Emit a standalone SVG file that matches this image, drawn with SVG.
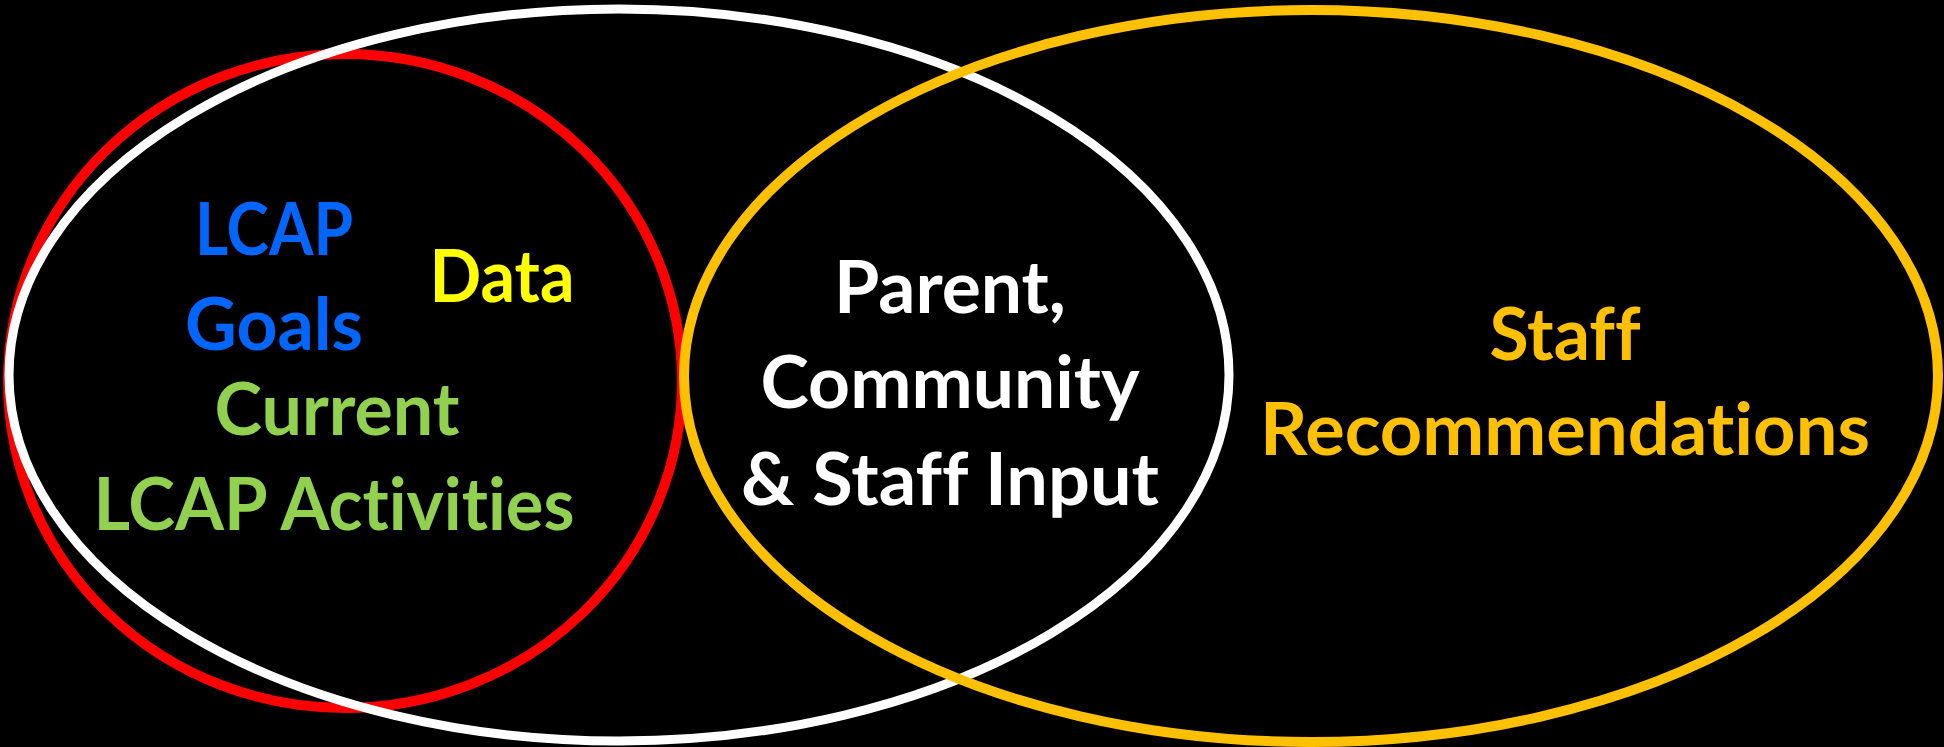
<svg xmlns="http://www.w3.org/2000/svg" width="1944" height="747" viewBox="0 0 1944 747">
<style>
.ring{fill:none}
.t{font-family:Lato,"Open Sans","Liberation Sans",sans-serif;font-weight:bold;font-size:72px;text-anchor:middle;font-variant-ligatures:none;font-feature-settings:"liga" 0,"clig" 0}
</style>
<rect width="1944" height="747" fill="#000"/>
<g id="red-circle">
<ellipse class="ring" cx="345" cy="381" rx="337" ry="327" stroke="#FF0000" stroke-width="10"/>
</g>
<g id="white-ellipse">
<ellipse class="ring" cx="619" cy="375" rx="610" ry="366" stroke="#FFFFFF" stroke-width="9"/>
</g>
<g id="orange-ellipse">
<ellipse class="ring" cx="1311" cy="376" rx="627" ry="366" stroke="#FFC000" stroke-width="10"/>
</g>
<g id="connectors"></g>
<g id="lcap-goals">
<text class="t" fill="#0066FF" x="274" y="255" textLength="158" lengthAdjust="spacingAndGlyphs">LCAP</text>
<text class="t" fill="#0066FF" x="274" y="350" textLength="178" lengthAdjust="spacingAndGlyphs">Goals</text>
</g>
<g id="data">
<text class="t" fill="#FFFF00" x="502" y="302" textLength="145" lengthAdjust="spacingAndGlyphs">Data</text>
</g>
<g id="current-activities">
<text class="t" fill="#92D050" x="337" y="435" textLength="245" lengthAdjust="spacingAndGlyphs">Current</text>
<text class="t" fill="#92D050" x="334" y="530" textLength="481" lengthAdjust="spacingAndGlyphs">LCAP Activities</text>
</g>
<g id="input">
<text class="t" fill="#FFFFFF" x="950" y="313" textLength="232" lengthAdjust="spacingAndGlyphs">Parent,</text>
<text class="t" fill="#FFFFFF" x="950" y="408" textLength="379" lengthAdjust="spacingAndGlyphs">Community</text>
<text class="t" fill="#FFFFFF" x="950" y="505" textLength="418" lengthAdjust="spacingAndGlyphs">&amp; Staff Input</text>
</g>
<g id="staff-recs">
<text class="t" fill="#FFC000" x="1565" y="360" textLength="151" lengthAdjust="spacingAndGlyphs">Staff</text>
<text class="t" fill="#FFC000" x="1565" y="455" textLength="610" lengthAdjust="spacingAndGlyphs">Recommendations</text>
</g>
</svg>
